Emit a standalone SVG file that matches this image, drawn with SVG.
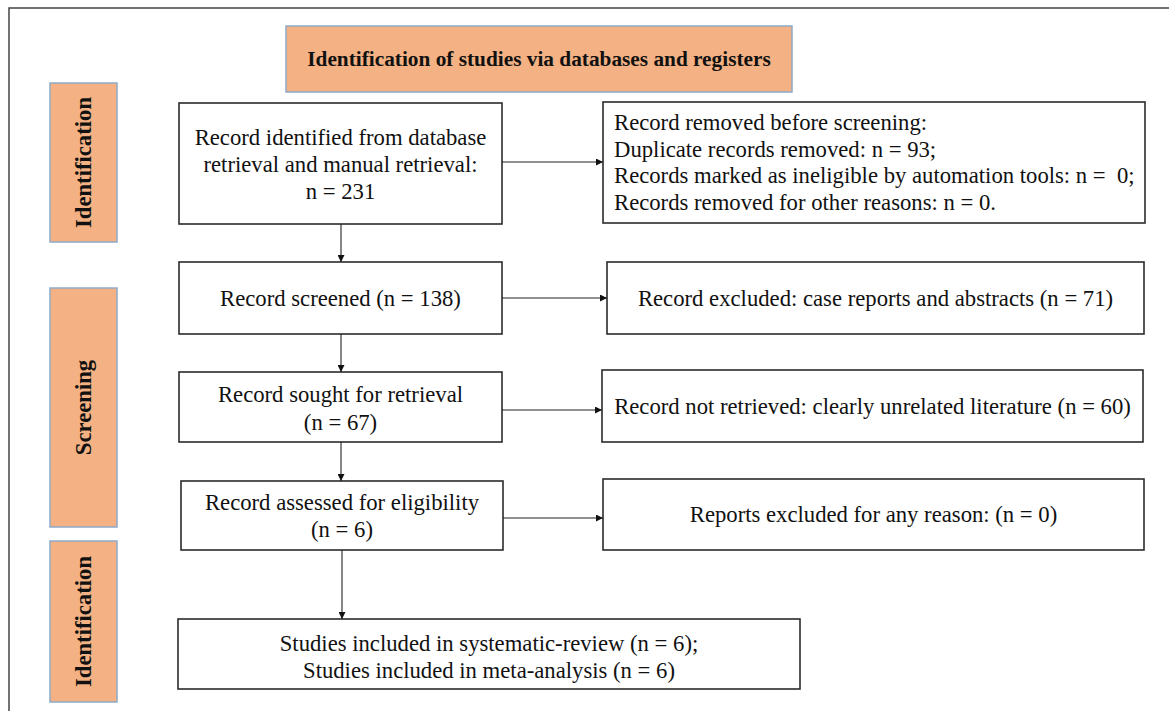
<svg xmlns="http://www.w3.org/2000/svg" width="1169" height="711" viewBox="0 0 1169 711">
  <style>
    .box { fill: #ffffff; stroke: #2b2b2b; stroke-width: 1.6; }
    .stage { fill: #F4B183; stroke: #8FAAC9; stroke-width: 1.5; }
    .t { font-family: "Liberation Serif", "Times New Roman", serif; font-size: 22.7px; fill: #111; }
    .c { text-anchor: middle; }
    .b { font-weight: bold; }
    .ttl { font-size: 21.3px; }
    .conn { stroke: #222; stroke-width: 1.1; fill: none; }
  </style>
  <defs>
    <marker id="ah" viewBox="0 0 10 10" refX="10" refY="5" markerWidth="7" markerHeight="7" markerUnits="userSpaceOnUse" orient="auto">
      <path d="M0,0 L10,5 L0,10 z" fill="#111"/>
    </marker>
    <linearGradient id="fade1" gradientUnits="userSpaceOnUse" x1="502" y1="0" x2="602" y2="0">
      <stop offset="0" stop-color="#222"/>
      <stop offset="0.5" stop-color="#bbb"/>
      <stop offset="0.8" stop-color="#ddd"/>
      <stop offset="1" stop-color="#222"/>
    </linearGradient>
    <linearGradient id="fade2" gradientUnits="userSpaceOnUse" x1="503" y1="0" x2="603" y2="0">
      <stop offset="0" stop-color="#222"/>
      <stop offset="0.3" stop-color="#ccc"/>
      <stop offset="0.5" stop-color="#ddd"/>
      <stop offset="0.7" stop-color="#444"/>
      <stop offset="1" stop-color="#222"/>
    </linearGradient>
  </defs>

  <rect x="9" y="8" width="1300" height="900" fill="none" stroke="#444" stroke-width="1.5"/>

  <g id="title">
    <rect class="stage" x="286" y="26" width="506" height="66"/>
    <text class="t c b ttl" x="539" y="66">Identification of studies via databases and registers</text>
  </g>

  <g id="stage-identification">
    <rect class="stage" x="50" y="83" width="67" height="159"/>
    <text class="t c b" transform="translate(91,162.5) rotate(-90)">Identification</text>
  </g>
  <g id="stage-screening">
    <rect class="stage" x="50" y="288" width="67" height="239"/>
    <text class="t c b" transform="translate(91,407.5) rotate(-90)">Screening</text>
  </g>
  <g id="stage-included">
    <rect class="stage" x="50" y="541" width="67" height="161"/>
    <text class="t c b" transform="translate(91,621.5) rotate(-90)">Identification</text>
  </g>

  <g id="n-identified">
    <rect class="box" x="179" y="103" width="323" height="121"/>
    <text class="t c" x="340.5" y="145">Record identified from database</text>
    <text class="t c" x="340.5" y="172">retrieval and manual retrieval:</text>
    <text class="t c" x="340.5" y="199">n = 231</text>
  </g>
  <g id="n-removed">
    <rect class="box" x="603" y="102" width="542" height="121"/>
    <text class="t" x="614" y="130">Record removed before screening:</text>
    <text class="t" x="614" y="156.5">Duplicate records removed: n = 93;</text>
    <text class="t" x="614" y="183" xml:space="preserve">Records marked as ineligible by automation tools: n =  0;</text>
    <text class="t" x="614" y="209.5">Records removed for other reasons: n = 0.</text>
  </g>
  <g id="n-screened">
    <rect class="box" x="179" y="262" width="323" height="72"/>
    <text class="t c" x="340.5" y="306">Record screened (n = 138)</text>
  </g>
  <g id="n-excluded">
    <rect class="box" x="607" y="262" width="537" height="72"/>
    <text class="t c" x="875.5" y="306">Record excluded: case reports and abstracts (n = 71)</text>
  </g>
  <g id="n-sought">
    <rect class="box" x="179" y="372" width="323" height="70"/>
    <text class="t c" x="340.5" y="402">Record sought for retrieval</text>
    <text class="t c" x="340.5" y="430">(n = 67)</text>
  </g>
  <g id="n-notretrieved">
    <rect class="box" x="602" y="370" width="541" height="72"/>
    <text class="t c" x="872.5" y="414">Record not retrieved: clearly unrelated literature (n = 60)</text>
  </g>
  <g id="n-assessed">
    <rect class="box" x="181" y="481" width="322" height="69"/>
    <text class="t c" x="342" y="510">Record assessed for eligibility</text>
    <text class="t c" x="342" y="537">(n = 6)</text>
  </g>
  <g id="n-reports">
    <rect class="box" x="603" y="479" width="541" height="71"/>
    <text class="t c" x="873.5" y="522">Reports excluded for any reason: (n = 0)</text>
  </g>
  <g id="n-included">
    <rect class="box" x="178" y="619" width="622" height="70"/>
    <text class="t c" x="489" y="651">Studies included in systematic-review (n = 6);</text>
    <text class="t c" x="489" y="678">Studies included in meta-analysis (n = 6)</text>
  </g>

  <g id="connectors">
    <line class="conn" x1="502" y1="162" x2="603" y2="162" marker-end="url(#ah)"/>
    <line class="conn" x1="341" y1="224" x2="341" y2="262" marker-end="url(#ah)"/>
    <line class="conn" x1="502" y1="298" x2="607" y2="298" marker-end="url(#ah)"/>
    <line class="conn" x1="341" y1="334" x2="341" y2="372" marker-end="url(#ah)"/>
    <line class="conn" x1="502" y1="410" x2="602" y2="410" stroke="url(#fade1)" marker-end="url(#ah)"/>
    <line class="conn" x1="341" y1="442" x2="341" y2="481" marker-end="url(#ah)"/>
    <line class="conn" x1="503" y1="518" x2="603" y2="518" stroke="url(#fade2)" marker-end="url(#ah)"/>
    <line class="conn" x1="342" y1="550" x2="342" y2="619" marker-end="url(#ah)"/>
  </g>
</svg>
